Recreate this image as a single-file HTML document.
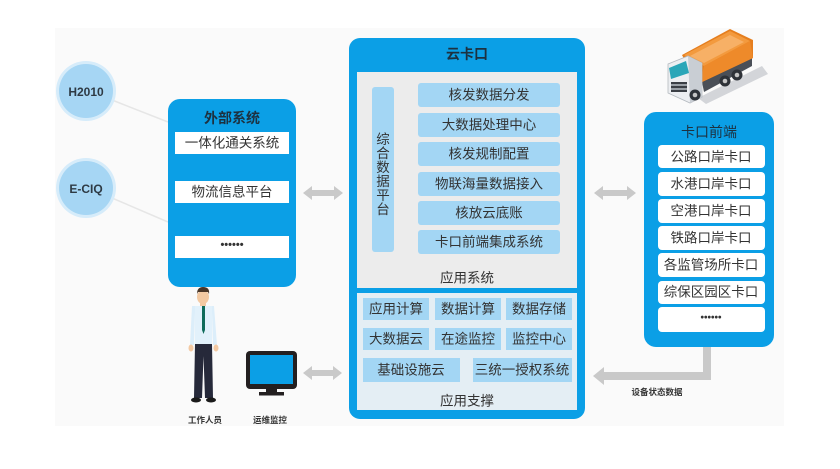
<!DOCTYPE html>
<html><head><meta charset="utf-8"><style>
html,body{margin:0;padding:0;background:#fff;}
svg{display:block;}
text{font-family:"Liberation Sans","Noto Sans CJK SC",sans-serif;}
</style></head><body>
<svg width="840" height="469" viewBox="0 0 840 469" xmlns="http://www.w3.org/2000/svg">
<rect x="0" y="0" width="840" height="469" fill="#ffffff"/>
<rect x="55" y="28" width="729" height="398" fill="#fafafa"/>

<!-- faint connector lines -->
<line x1="112" y1="100" x2="168" y2="122" stroke="#e6e6e6" stroke-width="1.5"/>
<line x1="112" y1="198" x2="168" y2="222" stroke="#e6e6e6" stroke-width="1.5"/>

<!-- circles -->
<circle cx="86" cy="91" r="30" fill="#d6ecfa"/>
<circle cx="86" cy="91" r="27" fill="#a6d6f4"/>
<text x="86" y="92" text-anchor="middle" dominant-baseline="central" font-size="12" font-weight="bold" fill="#2e3a44">H2010</text>
<circle cx="86" cy="188" r="30" fill="#d6ecfa"/>
<circle cx="86" cy="188" r="27" fill="#a6d6f4"/>
<text x="86" y="189" text-anchor="middle" dominant-baseline="central" font-size="12" font-weight="bold" fill="#2e3a44">E-CIQ</text>

<!-- left box -->
<rect x="168" y="99" width="128" height="188" rx="12" fill="#0b9fe6"/>
<text x="232" y="118" text-anchor="middle" dominant-baseline="central" font-size="14" font-weight="bold" fill="#1d3140">外部系统</text>
<rect x="175" y="132" width="114" height="22" fill="#fff"/>
<text x="232" y="143" text-anchor="middle" dominant-baseline="central" font-size="13.5" fill="#333">一体化通关系统</text>
<rect x="175" y="181" width="114" height="22" fill="#fff"/>
<text x="232" y="192" text-anchor="middle" dominant-baseline="central" font-size="13.5" fill="#333">物流信息平台</text>
<rect x="175" y="236" width="114" height="22" fill="#fff"/>
<text x="232" y="245" text-anchor="middle" dominant-baseline="central" font-size="11" font-weight="bold" fill="#333">••••••</text>

<!-- double arrows -->
<g fill="#c9c9c9">
<polygon points="303,193 312,186 312,190 334,190 334,186 343,193 334,200 334,196 312,196 312,200"/>
<polygon points="594,193 603,186 603,190 627,190 627,186 636,193 627,200 627,196 603,196 603,200"/>
<polygon points="303,373 312,366 312,370 333,370 333,366 342,373 333,380 333,376 312,376 312,380"/>
</g>

<!-- middle box -->
<rect x="349" y="38" width="236" height="381" rx="11" fill="#0b9fe6"/>
<text x="467" y="54" text-anchor="middle" dominant-baseline="central" font-size="14" font-weight="bold" fill="#1d3140">云卡口</text>
<rect x="357" y="72" width="220" height="216" fill="#ececec"/>
<rect x="357" y="293" width="220" height="117" fill="#e4eef4"/>

<rect x="372" y="87" width="22" height="165" rx="3" fill="#a3d6f4"/>
<g font-size="13.5" fill="#333" text-anchor="middle">
<text x="383" y="144">综</text>
<text x="383" y="158">合</text>
<text x="383" y="172">数</text>
<text x="383" y="186">据</text>
<text x="383" y="200">平</text>
<text x="383" y="214">台</text>
</g>

<g fill="#a3d6f4">
<rect x="418" y="83" width="142" height="24" rx="3"/>
<rect x="418" y="113" width="142" height="24" rx="3"/>
<rect x="418" y="142" width="142" height="24" rx="3"/>
<rect x="418" y="172" width="142" height="24" rx="3"/>
<rect x="418" y="201" width="142" height="24" rx="3"/>
<rect x="418" y="230" width="142" height="24" rx="3"/>
</g>
<g font-size="13.5" fill="#333" text-anchor="middle" dominant-baseline="central">
<text x="489" y="95">核发数据分发</text>
<text x="489" y="125">大数据处理中心</text>
<text x="489" y="154">核发规制配置</text>
<text x="489" y="184">物联海量数据接入</text>
<text x="489" y="213">核放云底账</text>
<text x="489" y="242">卡口前端集成系统</text>
<text x="467" y="278">应用系统</text>
</g>

<g fill="#a3d6f4">
<rect x="363" y="298" width="66" height="22"/>
<rect x="435" y="298" width="66" height="22"/>
<rect x="506" y="298" width="66" height="22"/>
<rect x="363" y="328" width="66" height="22"/>
<rect x="435" y="328" width="66" height="22"/>
<rect x="506" y="328" width="66" height="22"/>
<rect x="363" y="358" width="97" height="24"/>
<rect x="473" y="358" width="99" height="24"/>
</g>
<g font-size="13.5" fill="#333" text-anchor="middle" dominant-baseline="central">
<text x="396" y="309">应用计算</text>
<text x="468" y="309">数据计算</text>
<text x="539" y="309">数据存储</text>
<text x="396" y="339">大数据云</text>
<text x="468" y="339">在途监控</text>
<text x="539" y="339">监控中心</text>
<text x="411" y="370">基础设施云</text>
<text x="522" y="370">三统一授权系统</text>
<text x="467" y="401">应用支撑</text>
</g>

<!-- right box -->
<rect x="644" y="112" width="130" height="235" rx="12" fill="#0b9fe6"/>
<text x="709" y="132" text-anchor="middle" dominant-baseline="central" font-size="14" fill="#1d3140">卡口前端</text>
<g fill="#fff">
<rect x="658" y="145" width="107" height="23" rx="4"/>
<rect x="658" y="172" width="107" height="24" rx="4"/>
<rect x="658" y="199" width="107" height="24" rx="4"/>
<rect x="658" y="226" width="107" height="24" rx="4"/>
<rect x="658" y="253" width="107" height="24" rx="4"/>
<rect x="658" y="281" width="107" height="23" rx="4"/>
<rect x="658" y="307" width="107" height="25" rx="4"/>
</g>
<g font-size="13.5" fill="#333" text-anchor="middle" dominant-baseline="central">
<text x="711" y="157">公路口岸卡口</text>
<text x="711" y="184">水港口岸卡口</text>
<text x="711" y="211">空港口岸卡口</text>
<text x="711" y="238">铁路口岸卡口</text>
<text x="711" y="265">各监管场所卡口</text>
<text x="711" y="292">综保区园区卡口</text>
</g>
<text x="711" y="318" text-anchor="middle" dominant-baseline="central" font-size="10" font-weight="bold" fill="#333">••••••</text>

<!-- elbow arrow -->
<g fill="#c9c9c9">
<rect x="703" y="347" width="8" height="33"/>
<rect x="602" y="372" width="109" height="8"/>
<polygon points="593,376 604,367 604,385"/>
</g>
<text x="657" y="392" text-anchor="middle" dominant-baseline="central" font-size="8.5" font-weight="bold" fill="#333">设备状态数据</text>

<!-- truck -->
<g>
<polygon points="698,98 762,66 768,74 706,104" fill="#d3d5d9"/>
<polygon points="700,72 752,50 752,66 704,92" fill="#4a4f57"/>
<polygon points="682,55 730,29 753,40 753,58 700,83 690,70" fill="#e57e1e"/>
<polygon points="684,55 730,31 750,41 704,66" fill="#f39a3e"/>
<polygon points="690,56 730,35 744,42 704,63" fill="#f7b066"/>
<polygon points="704,66 750,41 753,58 700,83" fill="#ee8a2a"/>
<polygon points="668,64 688,56 702,63 702,97 690,103 668,93" fill="#eceef1" stroke="#b4b9bf" stroke-width="0.8"/>
<polygon points="688,56 702,63 702,97 690,103" fill="#c9ced4"/>
<polygon points="669,68 686,61 689,73 671,79" fill="#2aa6b8"/>
<rect x="671" y="82" width="16" height="10" fill="#3b3f45"/>
<rect x="671" y="84" width="16" height="2" fill="#9aa0a6"/>
<rect x="671" y="88" width="16" height="2" fill="#9aa0a6"/>
<circle cx="695" cy="95" r="5.5" fill="#2e3238"/><circle cx="695" cy="95" r="2.3" fill="#c4c4c4"/>
<circle cx="725" cy="81" r="5.5" fill="#2e3238"/><circle cx="725" cy="81" r="2.3" fill="#c4c4c4"/>
<circle cx="737" cy="75" r="5.5" fill="#2e3238"/><circle cx="737" cy="75" r="2.3" fill="#c4c4c4"/>
</g>

<!-- person -->
<g>
<ellipse cx="203" cy="297" rx="6" ry="7" fill="#f3c9a2"/>
<path d="M197,294 Q197,287 203,287 Q210,287 209,294 L208,292 L198,292 Z" fill="#4a3628"/>
<rect x="200" y="302" width="6" height="4" fill="#f3c9a2"/>
<path d="M192,306 L214,306 L217,345 L213,345 L212,312 L195,312 L194,345 L190,345 Z" fill="#dceefa"/>
<rect x="195" y="306" width="17" height="40" fill="#e2f1fb"/>
<polygon points="202,306 205,306 205,330 203.5,334 202,330" fill="#0f6b5a"/>
<ellipse cx="191" cy="348" rx="2.5" ry="3.5" fill="#f3c9a2"/>
<ellipse cx="216" cy="348" rx="2.5" ry="3.5" fill="#f3c9a2"/>
<path d="M195,344 L212,344 L213,398 L205,398 L203.5,356 L202,398 L194,398 Z" fill="#26293a"/>
<ellipse cx="196" cy="400" rx="5" ry="2.5" fill="#1a1a1a"/>
<ellipse cx="211" cy="400" rx="5" ry="2.5" fill="#1a1a1a"/>
</g>
<text x="205" y="420" text-anchor="middle" dominant-baseline="central" font-size="8.5" font-weight="bold" fill="#333">工作人员</text>

<!-- monitor -->
<rect x="246" y="351" width="51" height="38" rx="4" fill="#231f20"/>
<rect x="250" y="355" width="43" height="29" fill="#0b9fe6"/>
<rect x="266" y="389" width="11" height="4" fill="#231f20"/>
<rect x="259" y="392" width="25" height="3.5" fill="#231f20"/>
<text x="270" y="420" text-anchor="middle" dominant-baseline="central" font-size="8.5" font-weight="bold" fill="#333">运维监控</text>
</svg>
</body></html>
